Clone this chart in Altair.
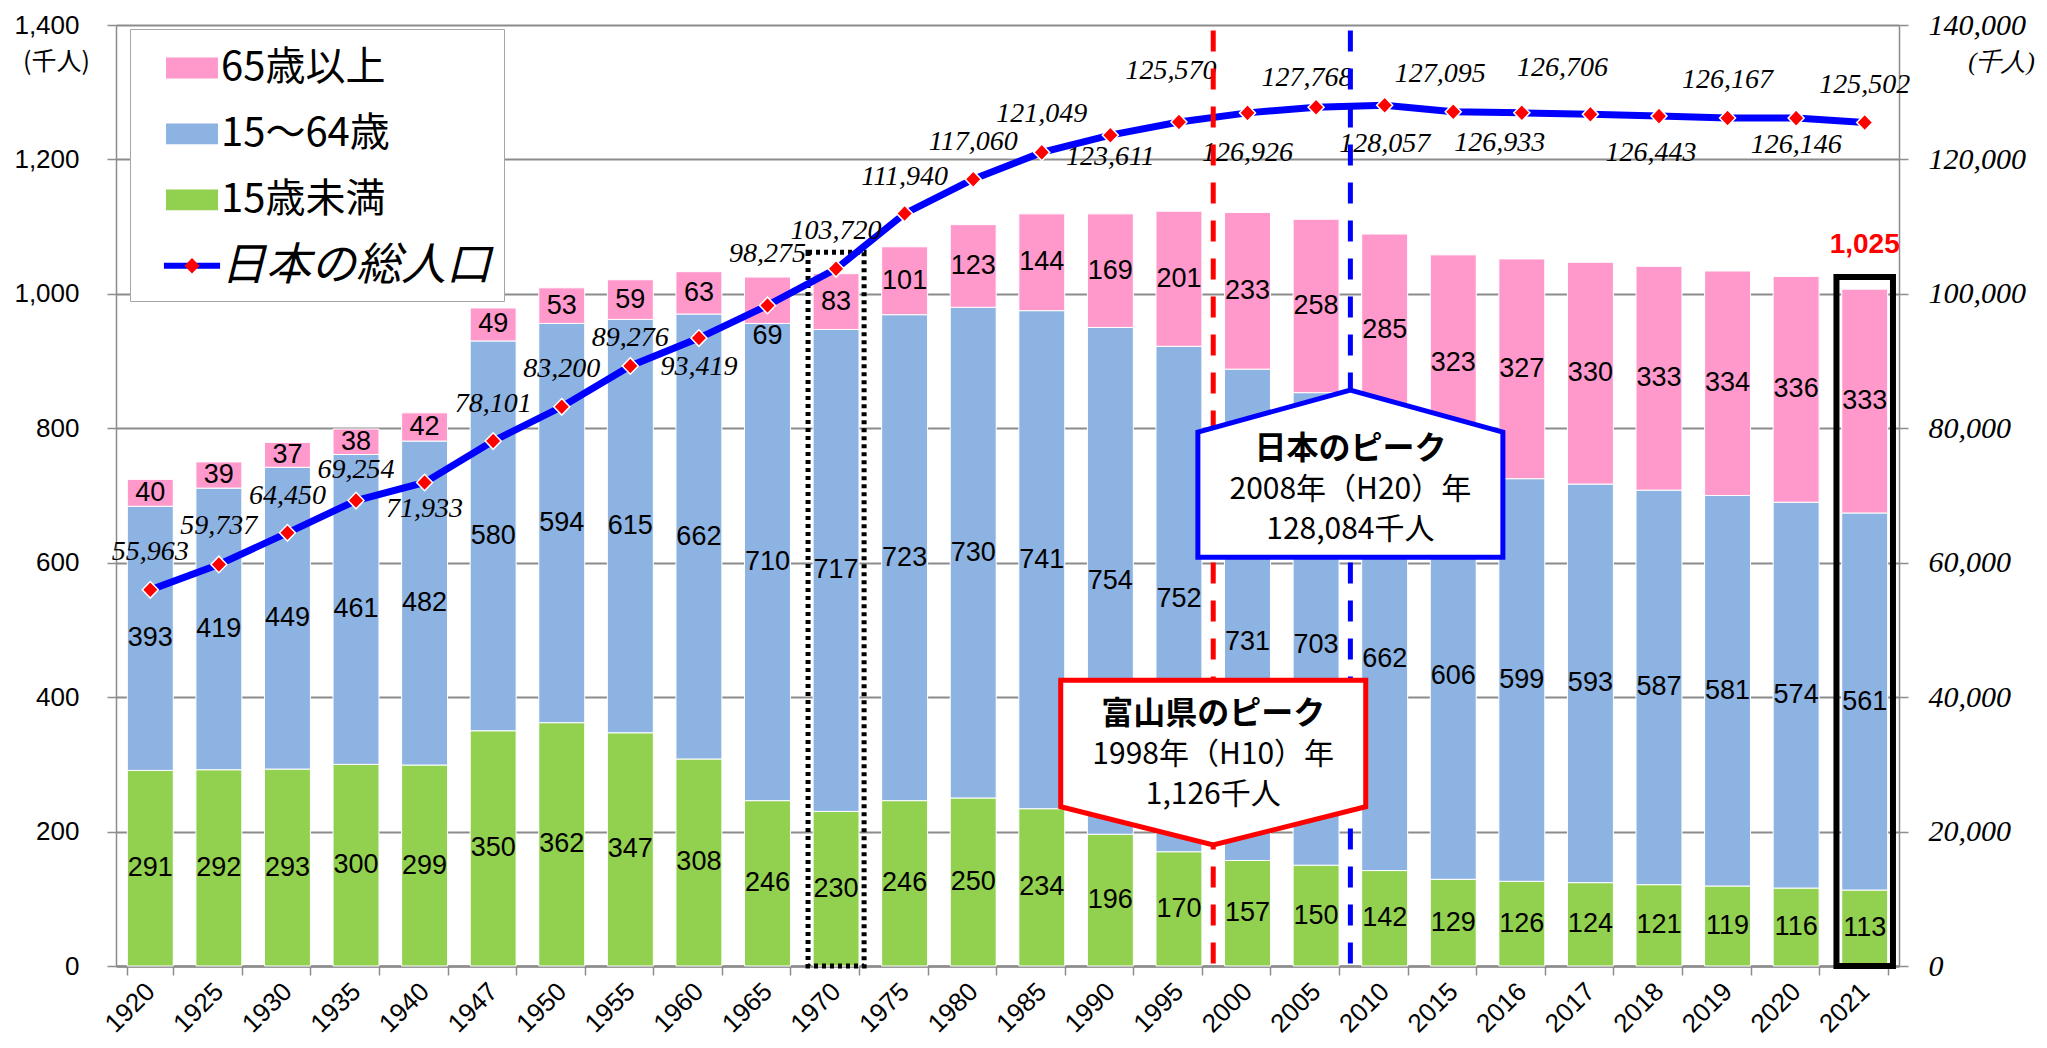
import altair as alt
import pandas as pd

# ---------------- data ----------------
YEARS = ["1920", "1925", "1930", "1935", "1940", "1947", "1950", "1955", "1960", "1965",
         "1970", "1975", "1980", "1985", "1990", "1995", "2000", "2005", "2010", "2015",
         "2016", "2017", "2018", "2019", "2020", "2021"]
UNDER15 = [291, 292, 293, 300, 299, 350, 362, 347, 308, 246, 230, 246, 250, 234, 196, 170,
           157, 150, 142, 129, 126, 124, 121, 119, 116, 113]
AGE15_64 = [393, 419, 449, 461, 482, 580, 594, 615, 662, 710, 717, 723, 730, 741, 754, 752,
            731, 703, 662, 606, 599, 593, 587, 581, 574, 561]
OVER65 = [40, 39, 37, 38, 42, 49, 53, 59, 63, 69, 83, 101, 123, 144, 169, 201,
          233, 258, 285, 323, 327, 330, 333, 334, 336, 333]
JAPAN_POP = [55963, 59737, 64450, 69254, 71933, 78101, 83200, 89276, 93419, 98275,
             103720, 111940, 117060, 121049, 123611, 125570, 126926, 127768, 128057, 127095,
             126933, 126706, 126443, 126167, 126146, 125502]
AGE_GROUPS = ["65歳以上", "15～64歳", "15歳未満"]
LINE_NAME = "日本の総人口"

TOTAL_2021 = {"year": "2021", "total": 1025}
BOX_1970 = {"year": "1970", "top": 1062}
PEAK_RULES = [{"year": "1995", "col": "#FF0000"}, {"year": "2005", "col": "#0000FF"}]
CALLOUTS = [
    {"year": "2005", "y": 708, "title": "日本のピーク", "l2": "2008年（H20）年",
     "l3": "128,084千人", "col": "#0000FF",
     "shape": "M0,-0.656L1,-0.38L1,0.44L-1,0.44L-1,-0.38Z"},
    {"year": "1995", "y": 314, "title": "富山県のピーク", "l2": "1998年（H10）年",
     "l3": "1,126千人", "col": "#FF0000",
     "shape": "M-1,-0.49L1,-0.49L1,0.34L0,0.59L-1,0.34Z"},
]

# ---------------- styles ----------------
PINK, BLUE, GREEN = "#FF99CC", "#8DB3E2", "#92D050"
LINE_BLUE, RED = "#0000FF", "#FF0000"
GRAY = "#8C8C8C"
W, H = 1783, 941
STEP = W / len(YEARS)
HALF_GAP = 0.33 * STEP / 2          # px from band end to the category boundary
R_PER_L = 140000 / 1400              # right-axis units per left-axis unit

# label nudges (pixels) — placement style only
LINE_LABEL_DY = {"1920": -38, "1925": -38, "1930": -37, "1935": -31, "1940": 26, "1947": -37,
                 "1950": -38, "1955": -28, "1960": 29, "1965": -51, "1970": -38, "1975": -37,
                 "1980": -37, "1985": -38, "1990": 22, "1995": -51, "2000": 40, "2005": -29,
                 "2010": 39, "2015": -38, "2016": 30, "2017": -46, "2018": 37, "2019": -38,
                 "2020": 27, "2021": -37}
LINE_LABEL_DX = {"1995": -8, "2005": -9, "2015": -13, "2016": -22, "2017": -28, "2018": -8}
BAR_LABEL_DY = {("1965", "65歳以上"): 36, ("2000", "15～64歳"): 27,
                ("2005", "15～64歳"): 16, ("2010", "15～64歳"): 11}

rows = []
for i, yr in enumerate(YEARS):
    base = 0
    for age, v in (("15歳未満", UNDER15[i]), ("15～64歳", AGE15_64[i]), ("65歳以上", OVER65[i])):
        rows.append({"year": yr, "age": age, "value": v, "start": base, "end": base + v,
                     "mid": base + v / 2, "ny": BAR_LABEL_DY.get((yr, age), 0)})
        base += v
bars_df = pd.DataFrame(rows)

pop_df = pd.DataFrame({"year": YEARS, "pop": JAPAN_POP})
pop_df["series"] = LINE_NAME
pop_df["label"] = [f"{v:,}" for v in JAPAN_POP]
pop_df["ny"] = [LINE_LABEL_DY[y] for y in YEARS]
pop_df["nx"] = [LINE_LABEL_DX.get(y, 0) for y in YEARS]

tot_df = pd.DataFrame([{**TOTAL_2021, "base": 0, "label": f"{TOTAL_2021['total']:,}"}])
box_df = pd.DataFrame([{**BOX_1970, "base": 0}])
rule_df = pd.DataFrame([{**r, "top": 1392 * R_PER_L, "bottom": 0} for r in PEAK_RULES])
call_df = pd.DataFrame(CALLOUTS)
call_df["yr"] = call_df["y"] * R_PER_L

xscale = alt.Scale(domain=YEARS, paddingInner=0.33, paddingOuter=0.165)
yleft = alt.Scale(domain=[0, 1400], nice=False, zero=True)
yright = alt.Scale(domain=[0, 140000], nice=False, zero=True)
COMMA = "format(datum.value, ',')"

xaxis = alt.Axis(title=None, labelAngle=-45, labelFont="Liberation Sans", labelFontSize=26,
                 labelColor="black", labelAlign="right", labelBaseline="middle",
                 labelPadding=12, tickBand="extent", tickSize=9, tickColor=GRAY,
                 tickWidth=1.5, domainColor=GRAY, domainWidth=2.5, grid=False)
yaxis_left = alt.Axis(values=list(range(0, 1401, 200)), labelExpr=COMMA,
                      labelFont="Liberation Sans",
                      labelFontSize=26, labelColor="black", labelPadding=28, tickSize=9,
                      tickColor=GRAY, tickWidth=1.5, domainColor=GRAY, domainWidth=1.5,
                      grid=True, gridColor=GRAY, gridWidth=2,
                      title="(千人)", titleAngle=0, titleX=-60, titleY=36, titleAlign="center",
                      titleBaseline="middle", titleFont="Noto Sans CJK JP", titleFontSize=25,
                      titleFontWeight="normal", titleColor="black")
yaxis_right = alt.Axis(orient="right", values=list(range(0, 140001, 20000)), labelExpr=COMMA,
                       labelFont="Liberation Serif", labelFontStyle="italic", labelFontSize=30,
                       labelColor="black", labelPadding=20, tickSize=9, tickColor=GRAY,
                       tickWidth=1.5, domainColor=GRAY, domainWidth=1.5, grid=False,
                       title="(千人)", titleAngle=0, titleX=102, titleY=36, titleAlign="center",
                       titleBaseline="middle", titleFont="Liberation Serif",
                       titleFontStyle="italic", titleFontSize=25, titleFontWeight="normal",
                       titleColor="black")

IS_LINE = f"datum.value === '{LINE_NAME}'"
LEG_COMMON = dict(title=None, orient="none", legendX=14, legendY=4, direction="vertical",
                  padding=12, rowPadding=18.9, symbolSize=2704, symbolOffset=23, labelOffset=2,
                  symbolStrokeWidth=1.5, symbolOpacity=1, labelFont="Noto Sans CJK JP",
                  labelFontSize=alt.ExprRef(expr=f"{IS_LINE} ? 45 : 40"), labelLimit=600)
legend_main = alt.Legend(
    **LEG_COMMON,
    symbolType=alt.ExprRef(expr=f"{IS_LINE} ? 'M-1.08,-0.115H1.08V0.115H-1.08Z' : 'M-1,-0.4H1V0.4H-1Z'"),
    symbolStrokeColor="transparent", labelColor="black",
    labelFontStyle=alt.ExprRef(expr=f"{IS_LINE} ? 'italic' : 'normal'"),
    fillColor="white", strokeColor="#A6A6A6")
legend_marker = alt.Legend(
    **LEG_COMMON, symbolFillColor=RED, symbolStrokeColor="white",
    labelExpr="'\u3000'", labelOpacity=0, zindex=2)
EMPTY = "M0,0"
DIAMOND = "M-0.29,0L0,-0.3L0.29,0L0,0.3Z"

X = alt.X("year:N", scale=xscale, sort=YEARS)
XB = alt.X("year:N", scale=xscale, sort=YEARS, bandPosition=1)
YL = lambda f: alt.Y(f, scale=yleft)
YR = lambda f: alt.Y(f, scale=yright)

# ---------------- left-scale layers ----------------
bars = alt.Chart(bars_df).mark_bar(stroke="white", strokeWidth=1).encode(
    x=alt.X("year:N", scale=xscale, axis=xaxis, sort=YEARS),
    y=alt.Y("start:Q", scale=yleft, axis=yaxis_left),
    y2="end:Q",
    fill=alt.Fill("age:N", scale=alt.Scale(domain=AGE_GROUPS + [LINE_NAME],
                                           range=[PINK, BLUE, GREEN, LINE_BLUE]),
                  legend=legend_main),
)
bar_label_layers = [
    alt.Chart(sub).mark_text(font="Liberation Sans", fontSize=27, color="black",
                             baseline="middle", dy=int(ny)).encode(
        x=X, y=YL("mid:Q"), text="value:Q")
    for ny, sub in bars_df.groupby("ny")
]
dotted = alt.Chart(box_df).mark_bar(fillOpacity=0, stroke="black", strokeWidth=5,
                                    strokeDash=[4, 4], width=alt.RelativeBandSize(1.22)).encode(
    x=X, y=YL("top:Q"), y2="base:Q")
black_box = alt.Chart(tot_df).mark_bar(fillOpacity=0, stroke="black", strokeWidth=6,
                                       width=alt.RelativeBandSize(1.23)).encode(
    x=X, y=YL("total:Q"), y2="base:Q")
tot_label = alt.Chart(tot_df).mark_text(font="Liberation Sans", fontSize=28, fontWeight="bold",
                                        color=RED, dy=-32, baseline="middle").encode(
    x=X, y=YL("total:Q"), text="label:N")
left = alt.layer(bars, *bar_label_layers, dotted, black_box, tot_label)

# ---------------- right-scale layers (population line + peak annotations) ----------------
line = alt.Chart(pop_df).mark_line(color=LINE_BLUE, strokeWidth=7).encode(
    x=X, y=alt.Y("pop:Q", scale=yright, axis=yaxis_right))
points = alt.Chart(pop_df).mark_point(filled=True, fill=RED, stroke="white", strokeWidth=1.5,
                                      size=3050, opacity=1).encode(
    x=X, y=YR("pop:Q"),
    shape=alt.Shape("series:N", scale=alt.Scale(domain=["\u2060a", "\u2060b", "\u2060c", LINE_NAME],
                                                range=[EMPTY, EMPTY, EMPTY, DIAMOND]),
                    legend=legend_marker))
pop_label_layers = [
    alt.Chart(sub).mark_text(font="Liberation Serif", fontStyle="italic", fontSize=28,
                             color="black", baseline="middle", dx=int(nx), dy=int(ny)).encode(
        x=X, y=YR("pop:Q"), text="label:N")
    for (nx, ny), sub in pop_df.groupby(["nx", "ny"])
]
rules = alt.Chart(rule_df).mark_rule(strokeWidth=5, strokeDash=[21, 17], xOffset=HALF_GAP).encode(
    x=XB, y=YR("top:Q"), y2="bottom:Q", color=alt.Color("col:N", scale=None))
pent = alt.Chart(call_df).mark_point(filled=True, fill="white", strokeWidth=5, size=305 ** 2,
                                     opacity=1, xOffset=HALF_GAP).encode(
    x=XB, y=YR("yr:Q"), shape=alt.Shape("shape:N", scale=None),
    stroke=alt.Stroke("col:N", scale=None))
t_title = alt.Chart(call_df).mark_text(font="Noto Sans CJK JP", fontSize=32, fontWeight="bold",
                                       color="black", dy=-41, baseline="middle",
                                       xOffset=HALF_GAP).encode(
    x=XB, y=YR("yr:Q"), text="title:N")
t_l2 = alt.Chart(call_df).mark_text(font="Noto Sans CJK JP", fontSize=30, color="black",
                                    baseline="middle", xOffset=HALF_GAP).encode(
    x=XB, y=YR("yr:Q"), text="l2:N")
t_l3 = alt.Chart(call_df).mark_text(font="Noto Sans CJK JP", fontSize=30, color="black",
                                    dy=40, baseline="middle", xOffset=HALF_GAP).encode(
    x=XB, y=YR("yr:Q"), text="l3:N")
right = alt.layer(line, points, *pop_label_layers, rules, pent, t_title, t_l2, t_l3)

chart = alt.layer(left, right).resolve_scale(y="independent").properties(
    width=W, height=H,
    autosize=alt.AutoSizeParams(type="none"),
    padding={"left": 108, "top": 17, "right": 138, "bottom": 72},
    background="white",
).configure_view(stroke=None)

chart.save("out.html", embed_options={"renderer": "svg", "actions": False})
